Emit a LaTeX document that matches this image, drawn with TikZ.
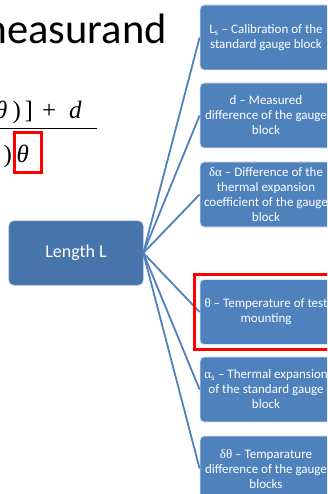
\documentclass[tikz,border=0pt]{standalone}
\usepackage{fontspec}
\setmainfont{Carlito}
\newfontfamily\tms{Liberation Serif}
\definecolor{boxblue}{RGB}{79,129,189}
\definecolor{rootblue}{RGB}{71,116,170}
\definecolor{edgeblue}{RGB}{79,129,189}
\definecolor{redbox}{RGB}{255,0,0}
\tikzset{
  leafbox/.style={draw=white!80!boxblue, line width=0.8pt, fill=boxblue, rounded corners=4pt,
    minimum width=132pt, minimum height=65pt, text=white, align=center, inner sep=0pt,
    font=\fontsize{13}{15}\selectfont},
  rootbox/.style={draw=rootblue!85!white, line width=0.6pt, fill=rootblue, rounded corners=5pt,
    minimum width=134pt, minimum height=64pt, text=white, inner sep=0pt,
    font=\fontsize{18}{21}\selectfont},
  conn/.style={draw=edgeblue, line width=1.8pt},
  formula/.style={inner sep=0pt, font=\tms\fontsize{25}{28}\selectfont},
  redframe/.style={draw=redbox, line width=3pt},
}
\begin{document}
\begin{tikzpicture}[x=1pt,y=-1pt]
\useasboundingbox (0,0) rectangle (327,494);
\fill[white] (0,0) rectangle (327,494);
\clip (0,0) rectangle (327,494);

% title (clipped at left)
\node[anchor=base east, inner sep=0pt, font=\fontsize{42.5}{47}\selectfont] (title) at (167,44) {measurand};

% formula fragment
\node[formula, anchor=base east] (nth) at (7.5,119) {\itshape θ};
\node[formula, anchor=base west] (npar) at (12.5,119) {)};
\node[formula, anchor=base west] (nbrk) at (24.5,119) {]};
\node[formula, anchor=base west] (nplus) at (42,119) {+};
\node[formula, anchor=base west] (nd) at (69,119) {\itshape d};
\draw[line width=1pt] (-5,129) coordinate (barl) -- (97,129) coordinate (barr);
\node[formula, anchor=base west] (dpar) at (3.5,163) {)};
\node[formula, anchor=base west] (dth) at (16.5,163) {\itshape θ};
\draw[redframe] (14.5,133) rectangle (41.5,172.5);

% root
\node[rootbox] (root) at (76,253) {Length L};

% leaves
\node[leafbox] (b1) at (266,37.5) {L\textsubscript{s} – Calibration of the\\standard gauge block};
\node[leafbox] (b2) at (266,115.5) {d – Measured\\difference of the gauge\\block};
\node[leafbox] (b3) at (266,194.5) {{\tms δα} – Difference of the\\thermal expansion\\coefficient of the gauge\\block};
\node[leafbox] (b4) at (266,312) {{\tms θ} – Temperature of test\\mounting};
\node[leafbox] (b5) at (266,389.5) {{\tms α}\textsubscript{s} – Thermal expansion\\of the standard gauge\\block};
\node[leafbox] (b6) at (266,468.5) {{\tms δθ} – Temparature\\difference of the gauge\\blocks};

% connectors
\foreach \b in {b1,b2,b3,b4,b5,b6}{
  \draw[conn] (root.east) -- (\b.west);
}

% red highlight frame
\draw[redframe] (194.5,274.5) rectangle (340,349.5);
\end{tikzpicture}
\end{document}
